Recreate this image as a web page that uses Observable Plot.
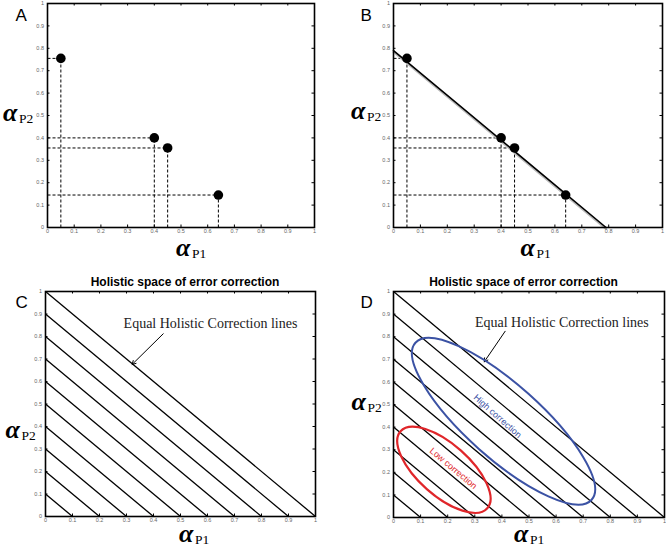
<!DOCTYPE html>
<html><head><meta charset="utf-8">
<script src="https://cdn.jsdelivr.net/npm/d3@7"></script>
<script src="https://cdn.jsdelivr.net/npm/@observablehq/plot@0.6"></script>
<style>
body{margin:0;background:#fff;}
#wrap{position:relative;width:666px;height:547px;overflow:hidden;background:#fff;}
#wrap svg{position:absolute;overflow:visible;}
</style></head><body><div id="wrap"></div>
<script>
// ---- data ----
const tickValues = [0, 0.1, 0.2, 0.3, 0.4, 0.5, 0.6, 0.7, 0.8, 0.9, 1];
const tickLabels = ["0", "0.1", "0.2", "0.3", "0.4", "0.5", "0.6", "0.7", "0.8", "0.9", "1"];
const pointP1 = [0.05, 0.40, 0.45, 0.64];
const pointP2 = [0.755, 0.40, 0.355, 0.145];
const fitLineP1 = [0, 0.79];
const fitLineP2 = [0.79, 0];
const holisticLevels = [0.1, 0.2, 0.3, 0.4, 0.5, 0.6, 0.7, 0.8, 0.9, 1.0];
const panelLetters = ["A", "B", "C", "D"];
const panelTitle = "Holistic space of error correction";
const annotationText = "Equal Holistic Correction lines";
// annotation anchor (data coords) for panels C, D
const annotationP1 = [0.611, 0.621];
const annotationP2 = [0.839, 0.842];
const arrowFromP1 = [0.436, 0.412];
const arrowFromP2 = [0.812, 0.824];
const arrowToP1 = [0.321, 0.335];
const arrowToP2 = [0.676, 0.689];
const regionNames = ["High correction", "Low correction"];
const regionCenterP1 = [0.406, 0.186];
const regionCenterP2 = [0.426, 0.211];
const regionLabelP1 = [0.384, 0.221];
const regionLabelP2 = [0.448, 0.217];

const points = pointP1.map((p1, i) => ({p1, p2: pointP2[i]}));
const fitLine = fitLineP1.map((p1, i) => ({p1, p2: fitLineP2[i]}));

// ---- helpers ----
const fmt = d => tickLabels[tickValues.indexOf(d)];
const SERIF = "Liberation Serif, Times New Roman, serif";
const SANS = "Liberation Sans, Arial, sans-serif";

function ellipseSymbol(k, deg) {
  const t = deg * Math.PI / 180, c = Math.cos(t), s = Math.sin(t), K = 0.5522847498;
  return {
    draw(ctx, size) {
      const rx = Math.sqrt(size / Math.PI), ry = rx * k;
      const P = (x, y) => [x * c - y * s, x * s + y * c];
      const seg = (a, b, e) => { const A = P(...a), B = P(...b), E = P(...e); ctx.bezierCurveTo(A[0], A[1], B[0], B[1], E[0], E[1]); };
      const S = P(rx, 0); ctx.moveTo(S[0], S[1]);
      seg([rx, ry * K], [rx * K, ry], [0, ry]);
      seg([-rx * K, ry], [-rx, ry * K], [-rx, 0]);
      seg([-rx, -ry * K], [-rx * K, -ry], [0, -ry]);
      seg([rx * K, -ry], [rx, -ry * K], [rx, 0]);
      ctx.closePath();
    }
  };
}

function frameMarks(pw, ph) {
  return [
    Plot.tickX(tickValues, {x: d => d, insetTop: ph - 2.5, strokeWidth: 1}),
    Plot.tickX(tickValues, {x: d => d, insetBottom: ph - 2.5, strokeWidth: 1}),
    Plot.tickY(tickValues, {y: d => d, insetRight: pw - 2.5, strokeWidth: 1}),
    Plot.tickY(tickValues, {y: d => d, insetLeft: pw - 2.5, strokeWidth: 1}),
    Plot.axisX(tickValues, {tickSize: 0, tickPadding: 1.5, fontSize: 5.5, color: "#666", tickFormat: fmt, fontFamily: SANS}),
    Plot.axisY(tickValues, {tickSize: 0, tickPadding: 3.5, fontSize: 5.5, color: "#666", tickFormat: fmt, fontFamily: SANS}),
    Plot.frame({strokeWidth: 1.6})
  ];
}

function axisLabels(o) {
  const a = {fontFamily: SERIF, fontWeight: "bold", fontStyle: "italic", fontSize: 26, lineAnchor: "bottom"};
  const s = {fontFamily: SERIF, fontSize: 13.5, lineAnchor: "bottom"};
  return [
    Plot.text(["\u03B1"], {...a, frameAnchor: "bottom", textAnchor: "end", dx: o.xdx, dy: o.xdy}),
    Plot.text(["P1"], {...s, frameAnchor: "bottom", textAnchor: "start", dx: o.xdx + 1.5, dy: o.xdy + 2}),
    Plot.text(["\u03B1"], {...a, frameAnchor: "left", textAnchor: "end", dx: o.ydx, dy: o.ydy}),
    Plot.text(["P2"], {...s, frameAnchor: "left", textAnchor: "start", dx: o.ydx + 1.5, dy: o.ydy + 2}),
    Plot.text([panelLetters[o.idx]], {frameAnchor: "top-left", textAnchor: "start", lineAnchor: "bottom", dx: o.ldx, dy: o.ldy, fontSize: 17, fontFamily: SANS})
  ];
}

function makePanel({left, top, width, height, ml, mr, mt, mb, marks}) {
  const pw = width - ml - mr, ph = height - mt - mb;
  const svg = Plot.plot({
    width, height, marginLeft: ml, marginRight: mr, marginTop: mt, marginBottom: mb,
    x: {domain: [0, 1], label: null},
    y: {domain: [0, 1], label: null},
    style: {background: "transparent", overflow: "visible", fontFamily: SANS, color: "#000"},
    marks: [...marks, ...frameMarks(pw, ph)]
  });
  svg.style.left = left + "px";
  svg.style.top = top + "px";
  document.getElementById("wrap").appendChild(svg);
}

const dashes = [
  Plot.link(points, {x1: 0, x2: "p1", y1: "p2", y2: "p2", strokeDasharray: "3,2", strokeWidth: 1}),
  Plot.link(points, {x1: "p1", x2: "p1", y1: 0, y2: "p2", strokeDasharray: "3,2", strokeWidth: 1})
];
const dots = Plot.dot(points, {x: "p1", y: "p2", r: 4.8, fill: "#000"});

// Panel A
makePanel({left: 0, top: 0, width: 333, height: 274, ml: 47, mr: 19, mt: 3, mb: 47,
  marks: [...dashes, dots,
    ...axisLabels({idx: 0, xdx: 9.5, xdy: 28, ydx: -30, ydy: 5, ldx: -32, ldy: 17})]});

// Panel B
makePanel({left: 333, top: 0, width: 333, height: 274, ml: 60, mr: 4, mt: 3, mb: 47,
  marks: [...dashes,
    Plot.line(fitLine, {x: "p1", y: "p2", stroke: "#bbb", strokeWidth: 2, dy: 1.5}),
    Plot.line(fitLine, {x: "p1", y: "p2", stroke: "#000", strokeWidth: 1.6}),
    dots,
    ...axisLabels({idx: 1, xdx: 7, xdy: 28, ydx: -28, ydy: 3, ldx: -33, ldy: 17})]});

function holisticMarks(k) {
  return [
    Plot.link(holisticLevels, {x1: 0, y1: d => d, x2: d => d, y2: 0, strokeWidth: 1.3}),
    Plot.arrow([k], {x1: d => arrowFromP1[d], y1: d => arrowFromP2[d], x2: d => arrowToP1[d], y2: d => arrowToP2[d], headLength: 6, strokeWidth: 1}),
    Plot.text([annotationText], {x: annotationP1[k], y: annotationP2[k], text: d => d, fontFamily: SERIF, fontSize: 14, lineAnchor: "bottom", fill: "#222"}),
    Plot.text([panelTitle], {frameAnchor: "top", dx: k === 0 ? 4.5 : -5.5, dy: -6, lineAnchor: "bottom", fontWeight: "bold", fontSize: 12, fontFamily: SANS})
  ];
}

// Panel C
makePanel({left: 0, top: 274, width: 333, height: 273, ml: 45, mr: 18, mt: 17, mb: 31,
  marks: [...holisticMarks(0),
    ...axisLabels({idx: 2, xdx: 13, xdy: 25.5, ydx: -25.5, ydy: 33.5, ldx: -30, ldy: 16})]});

// Panel D
const blue = "#3b52a4", red = "#e0262a";
makePanel({left: 333, top: 274, width: 333, height: 273, ml: 60, mr: 2, mt: 17, mb: 30,
  marks: [...holisticMarks(1),
    Plot.dot([0], {x: d => regionCenterP1[d], y: d => regionCenterP2[d], r: 118, symbol: ellipseSymbol(0.314, 41.7), stroke: blue, strokeWidth: 2, fill: "none"}),
    Plot.dot([1], {x: d => regionCenterP1[d], y: d => regionCenterP2[d], r: 58, symbol: ellipseSymbol(0.444, 41.6), stroke: red, strokeWidth: 2.2, fill: "none"}),
    Plot.text([0], {x: d => regionLabelP1[d], y: d => regionLabelP2[d], text: d => regionNames[d], rotate: 41.6, fill: blue, fontSize: 9, fontFamily: SANS}),
    Plot.text([1], {x: d => regionLabelP1[d], y: d => regionLabelP2[d], text: d => regionNames[d], rotate: 40, fill: red, fontSize: 9, fontFamily: SANS}),
    ...axisLabels({idx: 3, xdx: -0.5, xdy: 24.5, ydx: -27.5, ydy: 5, ldx: -33, ldy: 16})]});
</script></body></html>
